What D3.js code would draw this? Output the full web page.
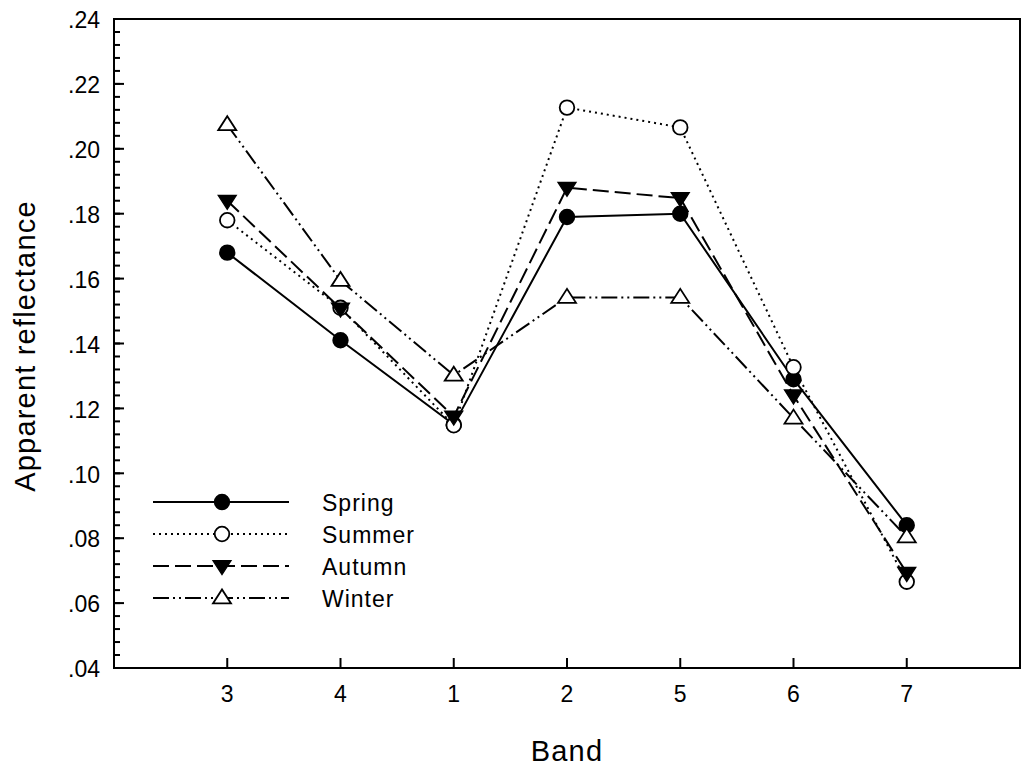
<!DOCTYPE html>
<html><head><meta charset="utf-8">
<script src="https://cdn.jsdelivr.net/npm/d3@7"></script>
<style>body{margin:0;background:#fff;}svg{display:block;font-family:"Liberation Sans",Arial,sans-serif;}</style>
</head><body>
<svg id="c" width="1024" height="772"></svg>
<script>
const bands = ["3","4","1","2","5","6","7"];
const spring = [0.168, 0.141, 0.115, 0.179, 0.180, 0.129, 0.084];
const summer = [0.178, 0.151, 0.1148, 0.2127, 0.2066, 0.1327, 0.0666];
const autumn = [0.1840, 0.1508, 0.1175, 0.1880, 0.1848, 0.1240, 0.0693];
const winter = [0.2074, 0.1594, 0.1302, 0.1542, 0.1542, 0.1170, 0.0804];
const yTicks = [0.04, 0.06, 0.08, 0.10, 0.12, 0.14, 0.16, 0.18, 0.20, 0.22, 0.24];
const seriesNames = ["Spring", "Summer", "Autumn", "Winter"];

const styles = {
  Spring: {dash: null, marker: "circle", fill: "#000"},
  Summer: {dash: "2,4", marker: "circle", fill: "#fff"},
  Autumn: {dash: "16,6", marker: "tridown", fill: "#000"},
  Winter: {dash: "16,4,2,4,2,4", marker: "triup", fill: "#fff"}
};
const seriesData = {Spring: spring, Summer: summer, Autumn: autumn, Winter: winter};

const L = 114, R = 1020, T = 19, B = 668;
const svg = d3.select("#c");
const x = d3.scaleLinear().domain([0, bands.length + 1]).range([L, R]);
const y = d3.scaleLinear().domain([0.04, 0.24]).range([B, T]);

// frame
svg.append("rect").attr("x", L).attr("y", T).attr("width", R - L).attr("height", B - T)
  .attr("fill", "none").attr("stroke", "#000").attr("stroke-width", 2);

// y axis ticks (inside)
const minor = d3.range(0.04, 0.2401, 0.004);
svg.append("g").selectAll("line").data(minor).join("line")
  .attr("x1", L).attr("x2", L + 6).attr("y1", d => y(d)).attr("y2", d => y(d))
  .attr("stroke", "#000").attr("stroke-width", 2);
svg.append("g").selectAll("line").data(yTicks).join("line")
  .attr("x1", L).attr("x2", L + 10).attr("y1", d => y(d)).attr("y2", d => y(d))
  .attr("stroke", "#000").attr("stroke-width", 2);
svg.append("g").selectAll("text").data(yTicks).join("text")
  .attr("x", 100).attr("y", d => y(d)).attr("dy", "0.4em").attr("text-anchor", "end")
  .attr("font-size", 23).attr("fill", "#000")
  .text(d => d3.format(".2f")(d).replace(/^0/, ""));

// x axis ticks
svg.append("g").selectAll("line").data(bands).join("line")
  .attr("x1", (d, i) => x(i + 1)).attr("x2", (d, i) => x(i + 1))
  .attr("y1", B).attr("y2", B - 10).attr("stroke", "#000").attr("stroke-width", 2);
svg.append("g").selectAll("text").data(bands).join("text")
  .attr("x", (d, i) => x(i + 1)).attr("y", 702).attr("text-anchor", "middle")
  .attr("font-size", 23).attr("fill", "#000").text(d => d);

// axis titles
svg.append("text").attr("x", 567).attr("y", 761).attr("text-anchor", "middle")
  .attr("font-size", 29).attr("letter-spacing", 1.2).attr("fill", "#000").text("Band");
svg.append("text").attr("transform", "translate(35,346) rotate(-90)")
  .attr("text-anchor", "middle").attr("font-size", 29).attr("letter-spacing", 1.2)
  .attr("fill", "#000").text("Apparent reflectance");

function drawMarker(g, type, fill, cx, cy) {
  if (type === "circle") {
    g.append("circle").attr("cx", cx).attr("cy", cy).attr("r", 7.3)
      .attr("fill", fill).attr("stroke", "#000").attr("stroke-width", 1.8);
  } else if (type === "tridown") {
    const s = 9;
    g.append("path").attr("d", `M${cx - s},${cy - s * 0.6}L${cx + s},${cy - s * 0.6}L${cx},${cy + s * 0.95}Z`)
      .attr("fill", fill).attr("stroke", "#000").attr("stroke-width", 1.3);
  } else {
    const s = 9;
    g.append("path").attr("d", `M${cx - s},${cy + s * 0.6}L${cx + s},${cy + s * 0.6}L${cx},${cy - s * 0.95}Z`)
      .attr("fill", fill).attr("stroke", "#000").attr("stroke-width", 1.8);
  }
}

const line = d3.line().x((d, i) => x(i + 1)).y(d => y(d));
seriesNames.forEach(name => {
  const st = styles[name];
  svg.append("path").datum(seriesData[name]).attr("d", line)
    .attr("fill", "none").attr("stroke", "#000").attr("stroke-width", 2)
    .attr("stroke-dasharray", st.dash);
});
seriesNames.forEach(name => {
  const st = styles[name];
  const g = svg.append("g");
  seriesData[name].forEach((v, i) => drawMarker(g, st.marker, st.fill, x(i + 1), y(v)));
});

// legend
const legY = [502, 534, 566, 598];
seriesNames.forEach((name, k) => {
  const st = styles[name];
  const g = svg.append("g");
  g.append("line").attr("x1", 153).attr("x2", 289).attr("y1", legY[k]).attr("y2", legY[k])
    .attr("stroke", "#000").attr("stroke-width", 2).attr("stroke-dasharray", st.dash);
  drawMarker(g, st.marker, st.fill, 222, legY[k]);
  g.append("text").attr("x", 322).attr("y", legY[k]).attr("dy", "0.38em")
    .attr("font-size", 23).attr("letter-spacing", 1).attr("fill", "#000").text(name);
});
</script>
</body></html>
